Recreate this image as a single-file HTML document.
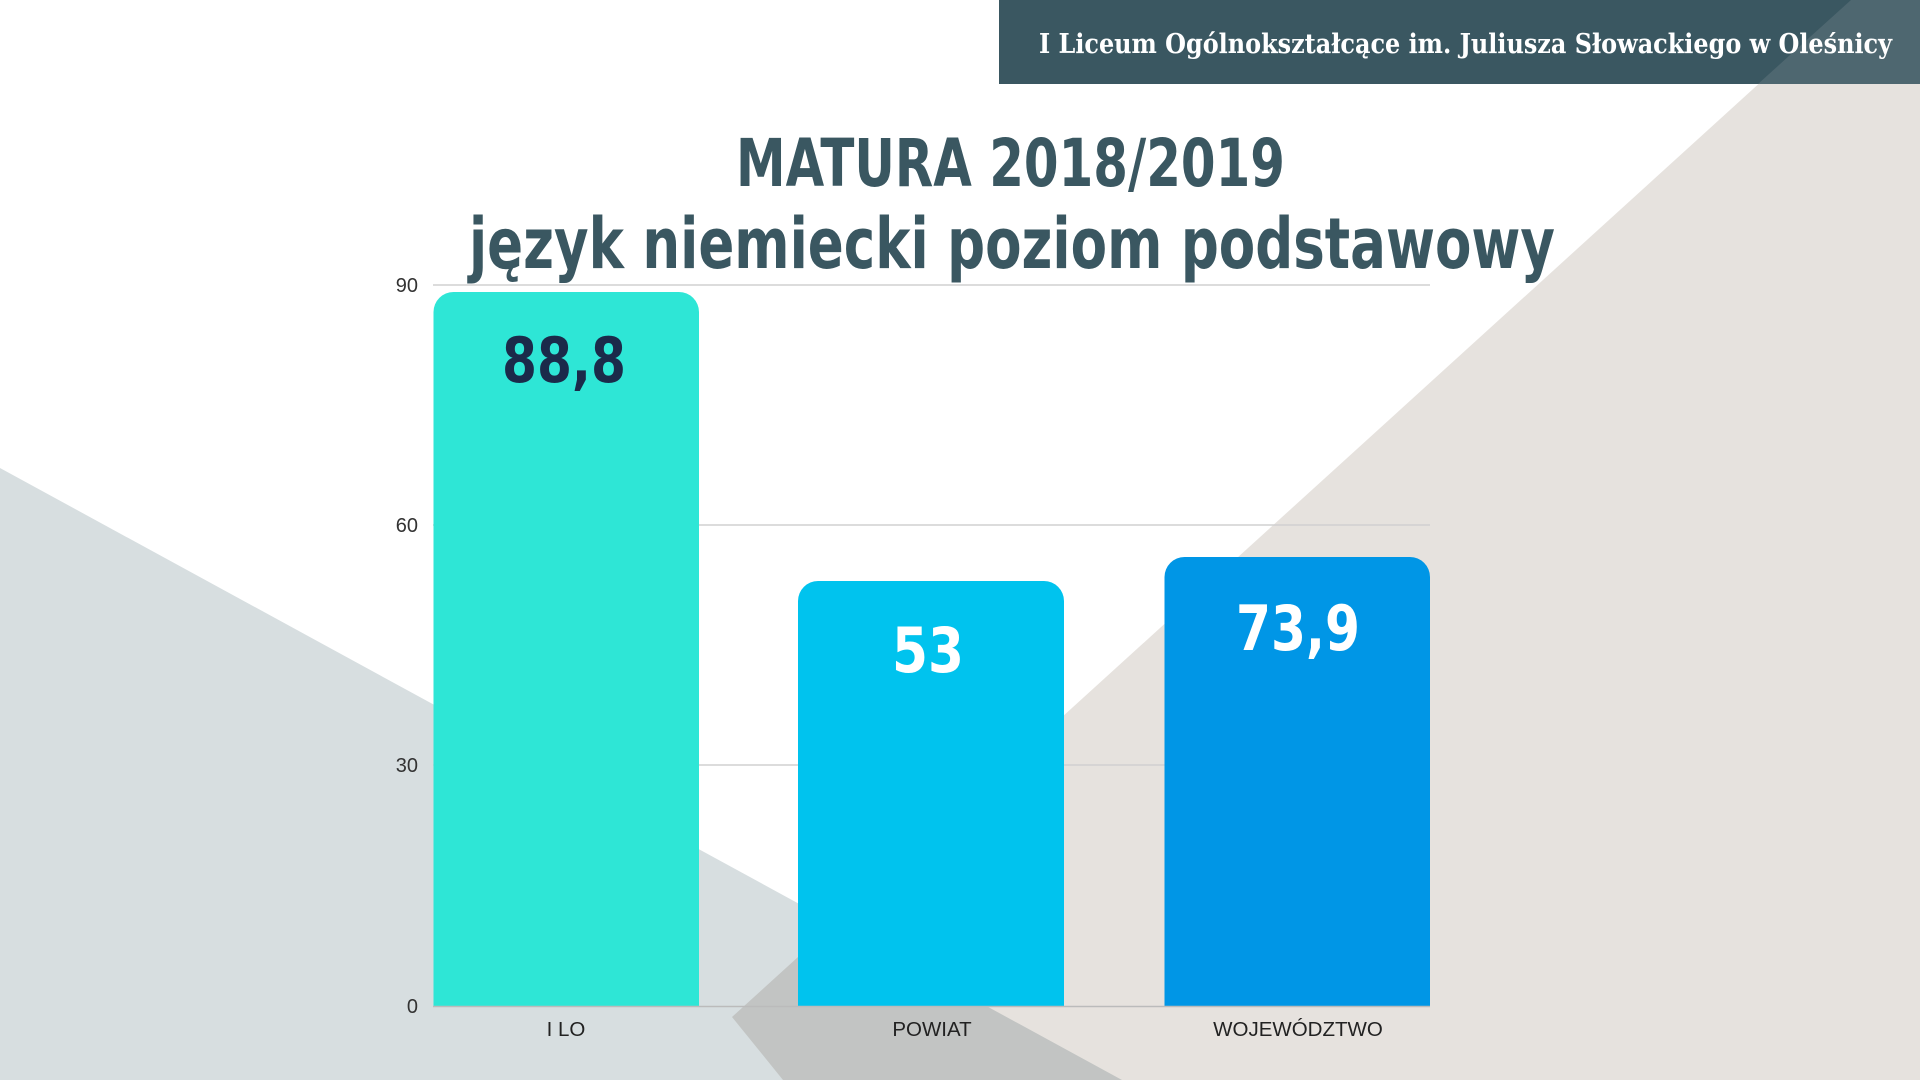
<!DOCTYPE html>
<html><head><meta charset="utf-8"><style>
html,body{margin:0;padding:0;background:#fff;}
svg{display:block;}
</style></head><body>
<svg width="1920" height="1080" viewBox="0 0 1920 1080" xmlns="http://www.w3.org/2000/svg">
<rect width="1920" height="1080" fill="#fff"/>
<polygon points="0,468 1122,1080 0,1080" fill="#d7dee0"/>
<polygon points="1851,0 1920,0 1920,1080 783,1080 732,1017" fill="#e6e2de" style="mix-blend-mode:multiply"/>
<rect x="999" y="0" width="921" height="84" fill="#3a5761"/>
<polygon points="1758,84 1851,0 1920,0 1920,84" fill="#e6e2de" opacity="0.12"/>
<text x="1892" y="53" text-anchor="end" font-family="'DejaVu Serif','Liberation Serif',serif" font-weight="bold" font-size="27" fill="#fff" textLength="853" lengthAdjust="spacingAndGlyphs">I Liceum Ogólnokształcące im. Juliusza Słowackiego w Oleśnicy</text>
<text x="736" y="186" font-family="'DejaVu Sans','Liberation Sans',sans-serif" font-weight="bold" font-size="66" fill="#3a5761" textLength="549" lengthAdjust="spacingAndGlyphs">MATURA 2018/2019</text>
<text x="469" y="268" font-family="'DejaVu Sans','Liberation Sans',sans-serif" font-weight="bold" font-size="70" fill="#3a5761" textLength="1086" lengthAdjust="spacingAndGlyphs">język niemiecki poziom podstawowy</text>
<g stroke="#d0d0d0" stroke-width="1.5">
<line x1="433" y1="285" x2="1430" y2="285"/>
<line x1="433" y1="525" x2="1430" y2="525"/>
<line x1="433" y1="765" x2="1430" y2="765"/>
</g>
<g font-family="'Liberation Sans',sans-serif" font-size="20" fill="#333" text-anchor="end">
<text x="418" y="292">90</text>
<text x="418" y="532">60</text>
<text x="418" y="772">30</text>
<text x="418" y="1013">0</text>
</g>
<path d="M433.5,1006 V312 a20,20 0 0 1 20,-20 H679 a20,20 0 0 1 20,20 V1006 Z" fill="#2ee6d6"/>
<path d="M798,1006 V601 a20,20 0 0 1 20,-20 H1044 a20,20 0 0 1 20,20 V1006 Z" fill="#00c3ee"/>
<path d="M1164.5,1006 V577 a20,20 0 0 1 20,-20 H1410 a20,20 0 0 1 20,20 V1006 Z" fill="#0096e6"/>
<line x1="433" y1="1006.5" x2="1430" y2="1006.5" stroke="#bbb" stroke-width="1.5"/>
<g font-family="'DejaVu Sans','Liberation Sans',sans-serif" font-weight="bold" font-size="62" text-anchor="middle">
<text x="564" y="382" fill="#1b2a4a" textLength="124" lengthAdjust="spacingAndGlyphs">88,8</text>
<text x="928" y="672" fill="#fff" textLength="72" lengthAdjust="spacingAndGlyphs">53</text>
<text x="1298" y="650" fill="#fff" textLength="124" lengthAdjust="spacingAndGlyphs">73,9</text>
</g>
<g font-family="'Liberation Sans',sans-serif" font-size="20.5" fill="#222" text-anchor="middle">
<text x="566" y="1036">I LO</text>
<text x="932" y="1036">POWIAT</text>
<text x="1298" y="1036">WOJEWÓDZTWO</text>
</g>
</svg>
</body></html>
